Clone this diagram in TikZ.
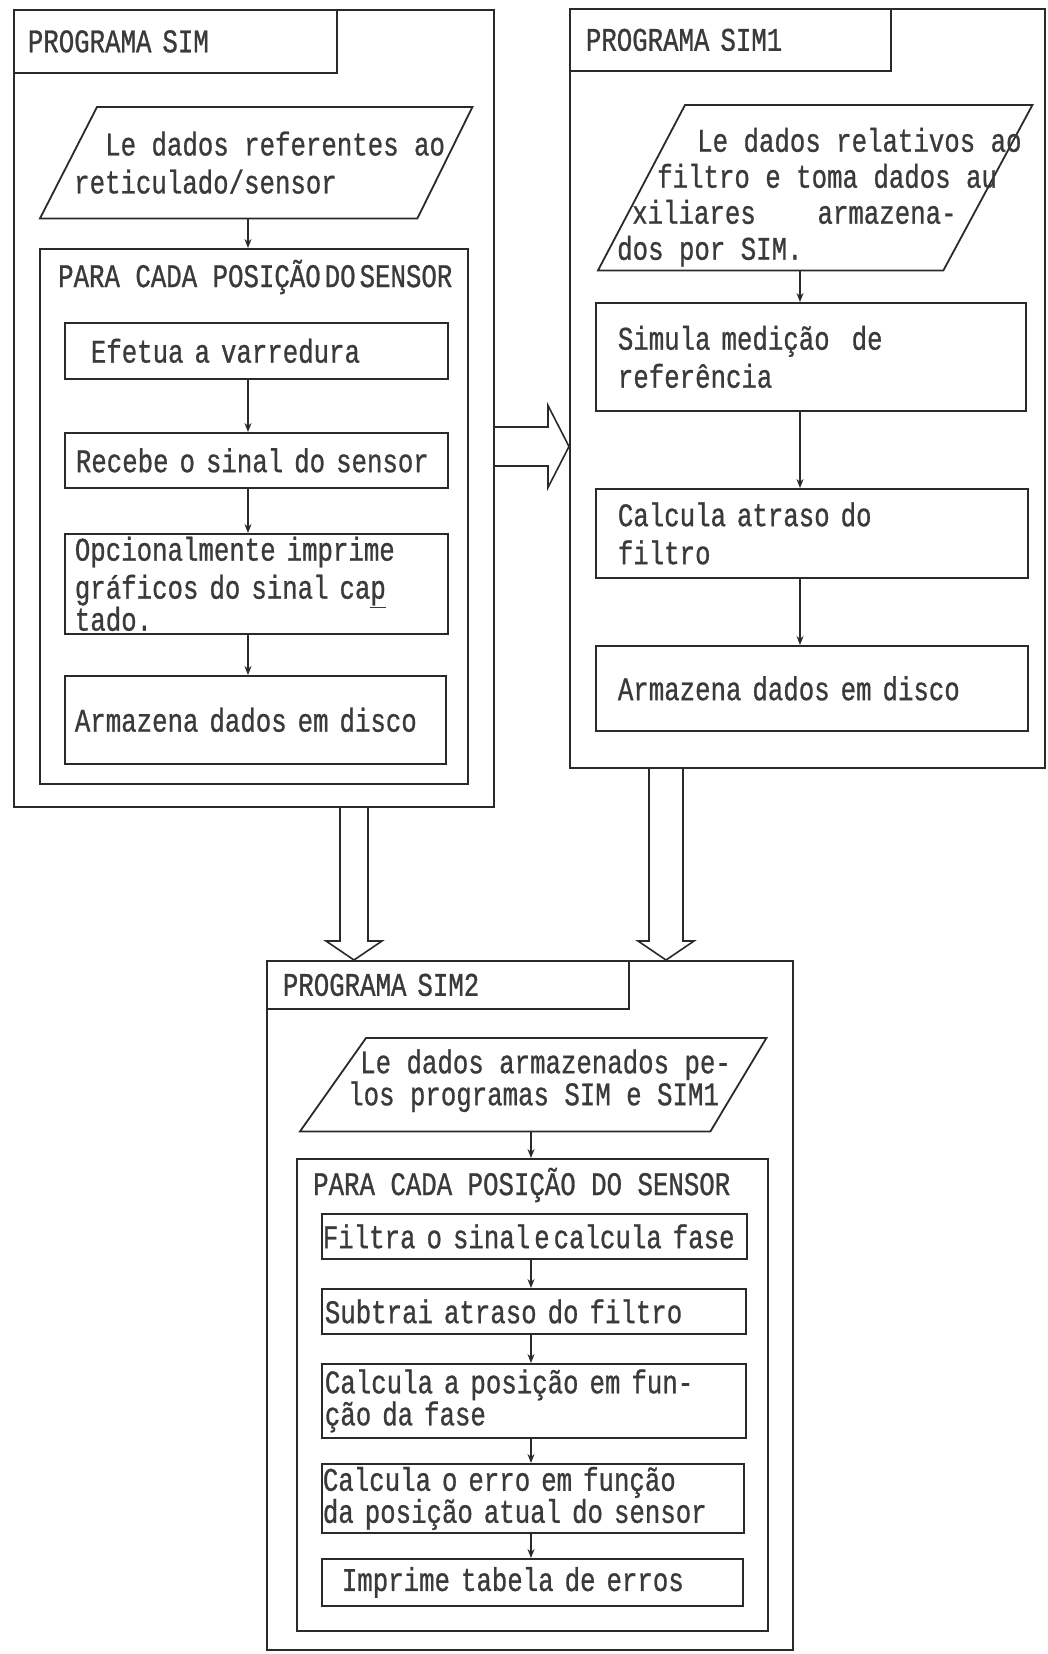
\documentclass[tikz,border=0pt]{standalone}
\usepackage{fontspec}
\setmonofont[FakeStretch=0.78, FakeBold=0.8]{Liberation Mono}
\usepackage{tikz}
\usetikzlibrary{arrows.meta}
\definecolor{flInk}{HTML}{2A2A2A}
\definecolor{flText}{HTML}{3A3A3A}
\tikzset{
  fl diagram/.style={x=1pt, y=-1pt, text=flText, line join=miter,
    font=\ttfamily\fontsize{33}{38}\selectfont},
  fl small/.style={font=\ttfamily\fontsize{33}{32}\selectfont},
  fl frame/.style={draw=flInk, line width=1.8pt, anchor=north west, inner sep=0pt},
  fl box/.style={fl frame, align=left},
  fl input/.style={anchor=north west, inner sep=0pt},
  fl text/.style={anchor=west, inner sep=0pt, align=left},
  fl outline/.style={draw=flInk, line width=1.8pt},
  fl flow/.style={-{Stealth[length=9pt,width=7pt]}, draw=flInk, line width=1.2pt},
  fl hollow/.style={draw=flInk, line width=1.6pt}
}
\begin{document}
\begin{tikzpicture}[fl diagram]
\useasboundingbox (0,0) rectangle (1047,1654);
% programa SIM
\node[fl frame, minimum width=480pt, minimum height=797pt] (simF) at (13,9) {};
\node[fl box, minimum width=323pt, minimum height=63pt, inner xsep=14pt, text width=295pt] (simT) at (13,9) {PROGRAMA SIM};
\node[fl input, minimum width=432pt, minimum height=111pt] (simIn) at (40,107) {};
\draw[fl outline] ([xshift=57pt]simIn.north west) -- (simIn.north east) -- ([xshift=-55pt]simIn.south east) -- (simIn.south west) -- cycle;
\node[fl text] (simInT) at ([xshift=34pt]simIn.west) {\hspace*{31pt}Le dados referentes ao\\reticulado/sensor};
\node[fl frame, minimum width=428pt, minimum height=535pt] (simLoop) at (39,248) {};
\node[fl text] (simLoopT) at (58,277) {PARA CADA POSIÇÃO\kern4pt DO\kern4pt SENSOR};
\node[fl box, minimum width=383pt, minimum height=56pt, inner xsep=26pt, text width=331pt] (simScan) at (64,322) {Efetua a varredura};
\node[fl box, minimum width=383pt, minimum height=55pt, inner xsep=11pt, text width=361pt] (simRead) at (64,432) {Recebe~o~sinal~do~sensor};
\node[fl box, minimum width=383pt, minimum height=100pt, inner xsep=10pt, text width=363pt] (simPlot) at (64,533)
  {Opcionalmente imprime\\gráficos do sinal ca\underline{p}\\[-6pt]tado.};
\node[fl box, minimum width=381pt, minimum height=88pt, inner xsep=10pt, text width=361pt] (simSave) at (64,675) {Armazena~dados~em~disco};
\coordinate (simAx) at (248,0);
\draw[fl flow] (simIn.south -| simAx) -- (simLoop.north -| simAx);
\foreach \a/\b in {simScan/simRead, simRead/simPlot, simPlot/simSave}
  \draw[fl flow] (\a.south -| simAx) -- (\b.north -| simAx);
% programa SIM1
\node[fl frame, minimum width=475pt, minimum height=759pt] (sim1F) at (569,8) {};
\node[fl box, minimum width=321pt, minimum height=62pt, inner xsep=16pt, text width=289pt] (sim1T) at (569,8) {PROGRAMA SIM1};
\node[fl input, minimum width=434pt, minimum height=165pt] (sim1In) at (598,105) {};
\draw[fl outline] ([xshift=87pt]sim1In.north west) -- (sim1In.north east) -- ([xshift=-89pt]sim1In.south east) -- (sim1In.south west) -- cycle;
\node[fl text, font=\ttfamily\fontsize{33}{36}\selectfont] (sim1InT) at ([xshift=19pt,yshift=-9.5pt]sim1In.west)
  {\hspace*{80pt}Le dados relativos ao\\\hspace*{40pt}filtro e toma dados au\\\hspace*{15pt}xiliares~~~~armazena-\\dos por SIM.};
\node[fl box, minimum width=430pt, minimum height=108pt, inner xsep=22pt, text width=386pt] (sim1Ref) at (595,302) {Simula medição~~de\\referência};
\node[fl box, minimum width=432pt, minimum height=89pt, inner xsep=22pt, text width=388pt] (sim1Delay) at (595,488) {Calcula atraso do\\filtro};
\node[fl box, minimum width=432pt, minimum height=85pt, inner xsep=22pt, text width=388pt] (sim1Save) at (595,645) {Armazena dados em disco};
\coordinate (sim1Ax) at (800,0);
\foreach \a/\b in {sim1In/sim1Ref, sim1Ref/sim1Delay, sim1Delay/sim1Save}
  \draw[fl flow] (\a.south -| sim1Ax) -- (\b.north -| sim1Ax);
% programa SIM2
\node[fl frame, minimum width=526pt, minimum height=689pt] (sim2F) at (266,960) {};
\node[fl box, minimum width=362pt, minimum height=48pt, inner xsep=16pt, text width=330pt] (sim2T) at (266,960) {PROGRAMA SIM2};
\begin{scope}[fl small]
\node[fl input, minimum width=466pt, minimum height=93pt] (sim2In) at (300,1038) {};
\draw[fl outline] ([xshift=66pt]sim2In.north west) -- (sim2In.north east) -- ([xshift=-56pt]sim2In.south east) -- (sim2In.south west) -- cycle;
\node[fl text] (sim2InT) at ([xshift=48pt,yshift=4pt]sim2In.west) {\hspace*{12pt}Le dados armazenados pe-\\los programas SIM e SIM1};
\node[fl frame, minimum width=471pt, minimum height=472pt] (sim2Loop) at (296,1158) {};
\node[fl text] (sim2LoopT) at (313,1185) {PARA CADA POSIÇÃO DO SENSOR};
\node[fl box, minimum width=425pt, minimum height=45pt, inner xsep=1pt, text width=423pt] (sim2Filter) at (321,1213) {Filtra~o~sinal\kern4pt e\kern4pt calcula~fase};
\node[fl box, minimum width=424pt, minimum height=45pt, inner xsep=3pt, text width=418pt] (sim2Sub) at (321,1288) {Subtrai atraso do filtro};
\node[fl box, minimum width=424pt, minimum height=74pt, inner xsep=3pt, text width=418pt] (sim2Pos) at (321,1363) {Calcula a posição em fun-\\ção da fase};
\node[fl box, minimum width=422pt, minimum height=69pt, inner xsep=1pt, text width=420pt] (sim2Err) at (321,1463) {Calcula o erro em função\\da~posição~atual~do~sensor};
\node[fl box, minimum width=421pt, minimum height=47pt, inner xsep=20pt, text width=381pt] (sim2Print) at (321,1558) {Imprime tabela de erros};
\end{scope}
\coordinate (sim2Ax) at (531,0);
\draw[fl flow] (sim2In.south -| sim2Ax) -- (sim2Loop.north -| sim2Ax);
\foreach \a/\b in {sim2Filter/sim2Sub, sim2Sub/sim2Pos, sim2Pos/sim2Err, sim2Err/sim2Print}
  \draw[fl flow] (\a.south -| sim2Ax) -- (\b.north -| sim2Ax);
% passagem de dados entre programas
\coordinate (simOutR) at (493,446.5);
\coordinate (sim1InL) at (569,446.5);
\draw[fl hollow] ([yshift=19.5pt]simOutR) -- ([xshift=-21pt,yshift=19.5pt]sim1InL) -- ([xshift=-21pt,yshift=41pt]sim1InL)
  -- (sim1InL) -- ([xshift=-21pt,yshift=-41pt]sim1InL) -- ([xshift=-21pt,yshift=-19.5pt]sim1InL) -- ([yshift=-19.5pt]simOutR);
\coordinate (simOutB) at (354,806);
\coordinate (sim2InA) at (354,960);
\coordinate (sim1OutB) at (666,767);
\coordinate (sim2InB) at (666,960);
\foreach \s/\e/\w in {simOutB/sim2InA/14, sim1OutB/sim2InB/17}
  \draw[fl hollow] ([xshift=-\w pt]\s) -- ([xshift=-\w pt,yshift=19pt]\e) -- ([xshift=-28pt,yshift=19pt]\e) -- (\e)
    -- ([xshift=28pt,yshift=19pt]\e) -- ([xshift=\w pt,yshift=19pt]\e) -- ([xshift=\w pt]\s);
\end{tikzpicture}
\end{document}
